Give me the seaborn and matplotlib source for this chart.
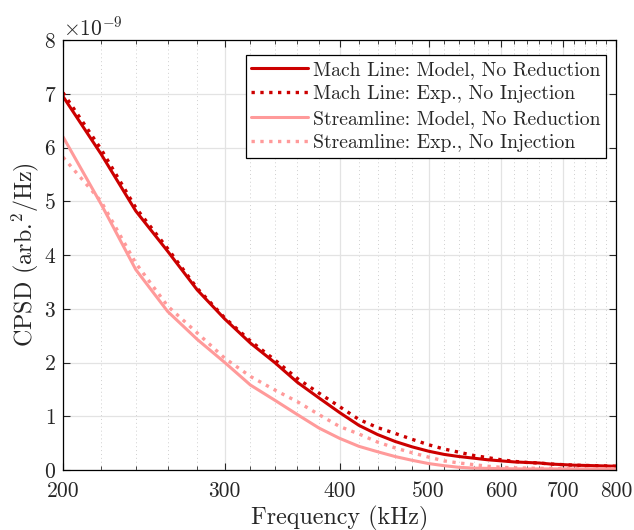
import numpy as np
import pandas as pd
import matplotlib
matplotlib.use("Agg")
import matplotlib.pyplot as plt
import matplotlib.ticker as mticker
import seaborn as sns

freq_khz = [200, 220, 240, 260, 280, 300, 320, 340, 360, 380, 400, 420, 440, 460, 480,
            500, 520, 540, 560, 580, 600, 620, 640, 660, 680, 700, 720, 740, 760, 780, 800]

mach_model = [6.95, 5.88, 4.82, 4.07, 3.35, 2.81, 2.36, 2.00, 1.63, 1.34, 1.07, 0.83, 0.66,
              0.53, 0.43, 0.35, 0.29, 0.25, 0.22, 0.19, 0.17, 0.15, 0.14, 0.13, 0.11, 0.10,
              0.09, 0.085, 0.08, 0.075, 0.07]
mach_exp = [7.02, 5.97, 4.88, 4.12, 3.38, 2.83, 2.40, 2.05, 1.70, 1.43, 1.18, 0.94, 0.79,
            0.68, 0.57, 0.47, 0.39, 0.33, 0.27, 0.23, 0.19, 0.16, 0.14, 0.13, 0.11, 0.10,
            0.09, 0.085, 0.08, 0.075, 0.07]
stream_model = [6.20, 4.95, 3.73, 2.95, 2.43, 2.00, 1.58, 1.30, 1.03, 0.78, 0.59, 0.44, 0.34,
                0.25, 0.18, 0.12, 0.08, 0.05, 0.035, 0.03, 0.025, 0.022, 0.02, 0.02, 0.02,
                0.02, 0.02, 0.02, 0.02, 0.02, 0.02]
stream_exp = [5.82, 5.00, 3.85, 3.05, 2.55, 2.08, 1.74, 1.49, 1.27, 1.03, 0.81, 0.67, 0.52,
              0.41, 0.32, 0.24, 0.17, 0.13, 0.10, 0.07, 0.05, 0.04, 0.035, 0.03, 0.03, 0.025,
              0.025, 0.02, 0.02, 0.02, 0.02]

labels = ["Mach Line: Model, No Reduction", "Mach Line: Exp., No Injection",
          "Streamline: Model, No Reduction", "Streamline: Exp., No Injection"]
series = [mach_model, mach_exp, stream_model, stream_exp]
colors = ["#cc0000", "#cc0000", "#ff9a9a", "#ff9a9a"]
styles = ["-", ":", "-", ":"]

x_major = [200, 300, 400, 500, 600, 700, 800]
x_minor = [f for f in range(220, 800, 20) if f % 100 != 0]
y_ticks = [0, 1, 2, 3, 4, 5, 6, 7, 8]

sns.set_style("ticks")
plt.rcParams["font.family"] = ["cmr10", "DejaVu Serif"]
plt.rcParams["mathtext.fontset"] = "cm"
plt.rcParams["axes.formatter.use_mathtext"] = True
plt.rcParams["axes.unicode_minus"] = False

fig = plt.figure(figsize=(6.34, 5.30), dpi=100)
ax = fig.add_axes([63 / 634, 1 - 470 / 530, (616 - 63) / 634, (470 - 40) / 530])

for lab, vals, c, ls in zip(labels, series, colors, styles):
    df = pd.DataFrame({"f": freq_khz, "v": np.array(vals) * 1e-9})
    sns.lineplot(data=df, x="f", y="v", ax=ax, color=c, linestyle=ls,
                 linewidth=2.2 if ls == "-" else 2.4, label=lab)

ax.set_xscale("log")
ax.set_xlim(200, 800)
ax.set_ylim(0, 8e-9)
ax.xaxis.set_major_locator(mticker.FixedLocator(x_major))
ax.xaxis.set_minor_locator(mticker.FixedLocator(x_minor))
ax.xaxis.set_major_formatter(mticker.FixedFormatter([str(v) for v in x_major]))
ax.xaxis.set_minor_formatter(mticker.NullFormatter())
ax.yaxis.set_major_locator(mticker.FixedLocator([v * 1e-9 for v in y_ticks]))
fmt = mticker.ScalarFormatter(useMathText=True)
fmt.set_powerlimits((-3, 3))
ax.yaxis.set_major_formatter(fmt)

ax.grid(True, which="major", color="#e3e3e3", linewidth=0.9, linestyle="-")
ax.grid(True, which="minor", axis="x", color="#cfcfcf", linewidth=0.7, linestyle=(0, (1, 3)))
ax.set_axisbelow(True)

ax.tick_params(which="both", direction="in", top=True, right=True, labelsize=15.5)
ax.tick_params(which="major", length=5, width=0.8)
ax.tick_params(which="minor", length=3, width=0.6)
ax.tick_params(axis="x", which="major", pad=8)
ax.tick_params(axis="y", which="major", pad=5)
for s in ax.spines.values():
    s.set_linewidth(0.9)
    s.set_color("black")

ax.set_xlabel("Frequency (kHz)", fontsize=17.3, labelpad=4)
ax.set_ylabel("CPSD (arb.$^2$/Hz)", fontsize=17.3, labelpad=2)
ax.yaxis.get_offset_text().set_fontsize(15.5)

leg = ax.legend(loc="upper right", bbox_to_anchor=(0.982, 0.965), borderaxespad=0,
                fontsize=14.2, frameon=True, fancybox=False,
                edgecolor="black", framealpha=1, handlelength=2.85, handletextpad=0.25,
                borderpad=0.3, labelspacing=0.33)
leg.get_frame().set_linewidth(0.9)

fig.savefig("out.png", dpi=100)
